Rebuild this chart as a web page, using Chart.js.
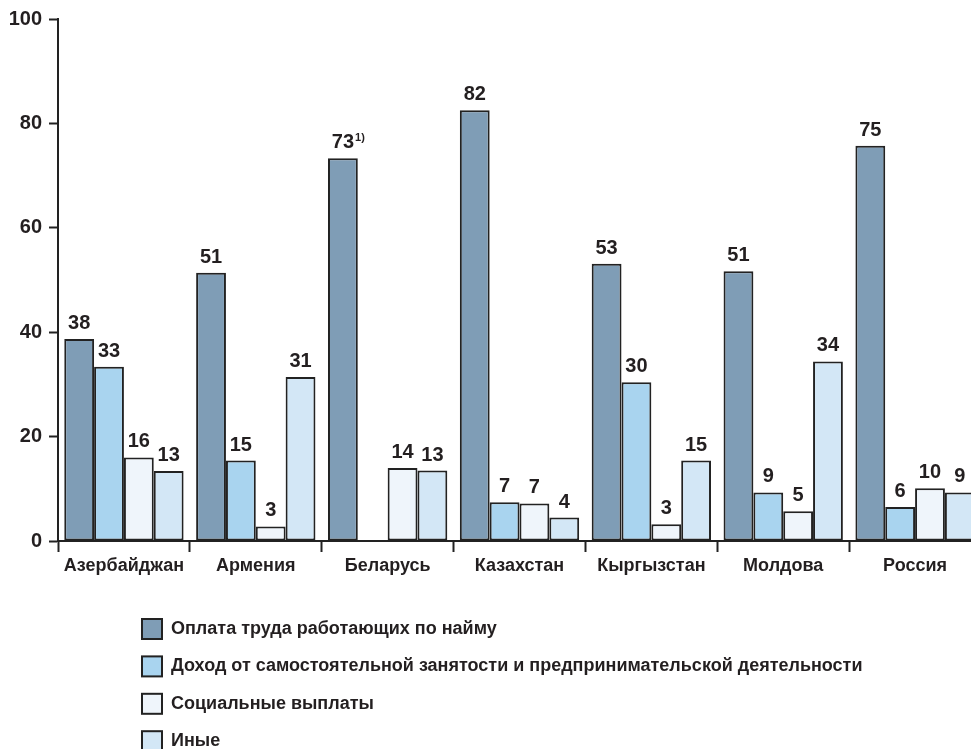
<!DOCTYPE html>
<html>
<head>
<meta charset="utf-8">
<script src="https://cdn.jsdelivr.net/npm/chart.js@4"></script>
<style>
  html, body { margin: 0; padding: 0; background: #fff; overflow: hidden; }
</style>
</head>
<body>
<canvas id="myChart" width="985" height="749"></canvas>
<script>
var categories = ["Азербайджан", "Армения", "Беларусь", "Казахстан", "Кыргызстан", "Молдова", "Россия"];
var seriesNames = [
    "Оплата труда работающих по найму",
    "Доход от самостоятельной занятости и предпринимательской деятельности",
    "Социальные выплаты",
    "Иные"
];
// bar heights
var wages = [38.7, 51.4, 73.3, 82.5, 53.1, 51.7, 75.7];
var selfEmployed = [33.4, 15.4, null, 7.4, 30.4, 9.3, 6.5];
var socialPay = [16.0, 2.8, 14.0, 7.2, 3.2, 5.7, 10.1];
var otherIncome = [13.4, 31.4, 13.5, 4.5, 15.4, 34.4, 9.3];
// printed labels
var wagesLabels = ["38", "51", "73", "82", "53", "51", "75"];
var selfEmployedLabels = ["33", "15", "", "7", "30", "9", "6"];
var socialPayLabels = ["16", "3", "14", "7", "3", "5", "10"];
var otherIncomeLabels = ["13", "31", "13", "4", "15", "34", "9"];
var footnotes = ["", "", "1)", "", "", "", ""];
var yTicks = [0, 20, 40, 60, 80, 100];

var colors = ["#7f9db6", "#a9d4ef", "#eff5fb", "#d3e7f6"];
var allLabels = [wagesLabels, selfEmployedLabels, socialPayLabels, otherIncomeLabels];
var fontFamily = "'Liberation Sans', Arial, sans-serif";
var ink = "#231f20";

var valueLabels = {
    id: "valueLabels",
    afterDatasetsDraw: function (chart) {
        var ctx = chart.ctx;
        ctx.save();
        ctx.fillStyle = ink;
        ctx.textBaseline = "alphabetic";
        chart.data.datasets.forEach(function (ds, i) {
            var meta = chart.getDatasetMeta(i);
            meta.data.forEach(function (bar, j) {
                var txt = allLabels[i][j];
                if (!txt || ds.data[j] == null) return;
                ctx.font = "bold 20px " + fontFamily;
                ctx.textAlign = "center";
                var y = bar.y - 10;
                ctx.fillText(txt, bar.x, y);
                if (i === 0 && footnotes[j]) {
                    var w = ctx.measureText(txt).width;
                    ctx.font = "bold 11px " + fontFamily;
                    ctx.textAlign = "left";
                    ctx.fillText(footnotes[j], bar.x + w / 2 + 1, y - 7);
                }
            });
        });
        ctx.restore();
    }
};

var sideLegend = {
    id: "sideLegend",
    afterDraw: function (chart) {
        var ctx = chart.ctx;
        ctx.save();
        chart.data.datasets.forEach(function (ds, i) {
            var top = 619 + i * 37.4;
            ctx.fillStyle = ds.backgroundColor;
            ctx.fillRect(142, top, 20, 20);
            ctx.strokeStyle = "#222";
            ctx.lineWidth = 2;
            ctx.strokeRect(142, top, 20, 20);
            ctx.fillStyle = ink;
            ctx.font = "bold 18px " + fontFamily;
            ctx.textAlign = "left";
            ctx.textBaseline = "middle";
            ctx.fillText(ds.label, 171, top + 10);
        });
        ctx.restore();
    }
};

function makeSet(i, values) {
    return {
        label: seriesNames[i],
        data: values,
        backgroundColor: colors[i],
        borderColor: "#222",
        borderWidth: 2,
        borderSkipped: false,
        barPercentage: 1,
        categoryPercentage: 0.905
    };
}

new Chart("myChart", {
    type: "bar",
    data: {
        labels: categories,
        datasets: [
            makeSet(0, wages),
            makeSet(1, selfEmployed),
            makeSet(2, socialPay),
            makeSet(3, otherIncome)
        ]
    },
    options: {
        responsive: false,
        animation: false,
        layout: { padding: { left: 0, top: 16, right: 4, bottom: 168 } },
        plugins: {
            legend: { display: false },
            tooltip: { enabled: false }
        },
        scales: {
            x: {
                grid: {
                    display: true,
                    offset: true,
                    drawOnChartArea: false,
                    drawTicks: true,
                    tickLength: 11,
                    tickWidth: 2,
                    tickColor: "#222"
                },
                border: { display: true, color: "#222", width: 2 },
                ticks: {
                    color: ink,
                    padding: 3,
                    maxRotation: 0,
                    autoSkip: false,
                    font: { family: fontFamily, size: 18, weight: "bold" }
                },
                afterFit: function (scale) { scale.height = 40; }
            },
            y: {
                min: 0,
                max: 100,
                afterBuildTicks: function (scale) {
                    scale.ticks = yTicks.map(function (v) { return { value: v }; });
                },
                grid: {
                    drawOnChartArea: false,
                    drawTicks: true,
                    tickLength: 9,
                    tickWidth: 2,
                    tickColor: "#222"
                },
                border: { display: true, color: "#222", width: 2 },
                ticks: {
                    color: ink,
                    padding: 7,
                    font: { family: fontFamily, size: 20, weight: "bold" }
                },
                afterFit: function (scale) { scale.width = 58; }
            }
        }
    },
    plugins: [valueLabels, sideLegend]
});
</script>
</body>
</html>
